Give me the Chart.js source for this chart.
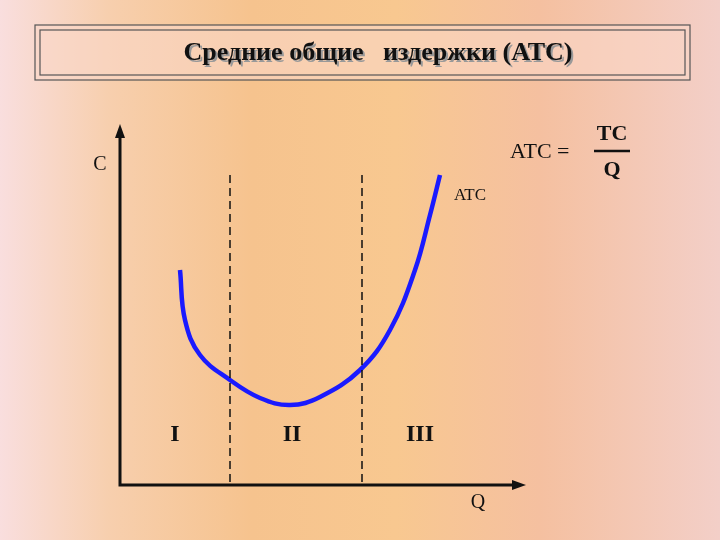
<!DOCTYPE html>
<html><head><meta charset="utf-8">
<script src="https://cdn.jsdelivr.net/npm/chart.js@4/dist/chart.umd.min.js"></script>
<style>
html,body{margin:0;padding:0;width:720px;height:540px;overflow:hidden;
background:linear-gradient(90deg,#f9dede 0%,#f7cfae 15%,#f6c38e 35%,#f8c890 55%,#f5c0a0 75%,#f3cfc8 100%);}
#wrap{position:absolute;left:0;top:0;width:720px;height:540px;}
</style></head><body>
<div id="wrap"><canvas id="c" width="720" height="540"></canvas></div>
<script>
const curveQ=[60,65,80,110,140,170,200,240,270,295,310,320];
const curveC=[215,165,130,105,87,80,88,115,155,215,270,310];
const dashQ=[110,242];
const zoneLabels=['I','II','III'];
const zoneQ=[55,172,300];
const title='Средние общие   издержки (АТС)';

const overlay={id:'overlay',afterDraw(ch){
 const c=ch.ctx,xs=ch.scales.x,ys=ch.scales.y;
 const X=v=>xs.getPixelForValue(v),Y=v=>ys.getPixelForValue(v);
 c.save();
 c.fillStyle='rgba(250,215,200,0.6)';c.fillRect(35,25,655,55);
 c.strokeStyle='#555';c.lineWidth=1.2;c.strokeRect(35,25,655,55);c.strokeRect(40,30,645,45);
 c.font='bold 26px "Liberation Serif"';c.textAlign='center';c.textBaseline='middle';
 c.fillStyle='#999';c.fillText(title,380,55);
 c.fillStyle='#111';c.fillText(title,378,53);
 c.setLineDash([8,5]);c.strokeStyle='#111';c.lineWidth=1.5;
 dashQ.forEach(q=>{c.beginPath();c.moveTo(X(q),Y(310));c.lineTo(X(q),Y(0));c.stroke();});
 c.setLineDash([]);
 c.lineWidth=3;c.beginPath();c.moveTo(X(0),Y(355));c.lineTo(X(0),Y(0));c.lineTo(X(400),Y(0));c.stroke();
 c.fillStyle='#111';
 c.beginPath();c.moveTo(X(0),Y(355)-6);c.lineTo(X(0)-5,Y(355)+8);c.lineTo(X(0)+5,Y(355)+8);c.fill();
 c.beginPath();c.moveTo(X(400)+6,Y(0));c.lineTo(X(400)-8,Y(0)-5);c.lineTo(X(400)-8,Y(0)+5);c.fill();
 c.font='20px "Liberation Serif"';
 c.fillText('C',100,165);c.fillText('Q',478,503);
 c.font='17px "Liberation Serif"';c.fillText('ATC',470,196);
 c.font='bold 24px "Liberation Serif"';
 zoneLabels.forEach((l,i)=>c.fillText(l,X(zoneQ[i]),435));
 c.font='22px "Liberation Serif"';c.textAlign='left';c.fillText('ATC =',510,152);
 c.textAlign='center';c.font='bold 22px "Liberation Serif"';c.fillText('TC',612,134);c.fillText('Q',612,170);
 c.lineWidth=2.5;c.beginPath();c.moveTo(594,151);c.lineTo(630,151);c.stroke();
 c.restore();
}};

new Chart(document.getElementById('c'),{type:'line',
 data:{datasets:[{data:curveQ.map((q,i)=>({x:q,y:curveC[i]})),borderColor:'#1a1aff',borderWidth:4.5,pointRadius:0,tension:0.4}]},
 options:{responsive:false,animation:false,events:[],
  layout:{padding:{left:120,right:200,top:130,bottom:55}},
  plugins:{legend:{display:false},tooltip:{enabled:false}},
  scales:{x:{type:'linear',min:0,max:400,display:false},y:{min:0,max:355,display:false}}},
 plugins:[overlay]});
</script></body></html>
